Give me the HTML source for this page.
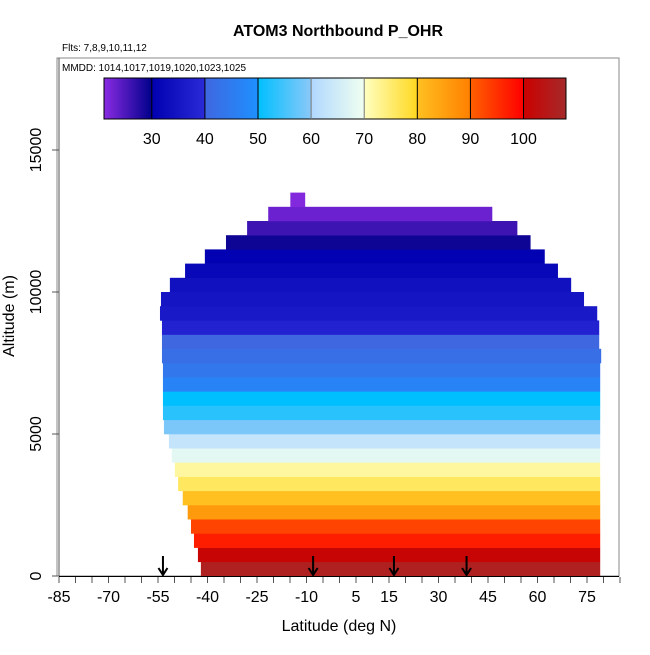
<!DOCTYPE html>
<html><head><meta charset="utf-8"><style>
body{margin:0;background:#fff}
svg text{font-family:"Liberation Sans",sans-serif}
</style></head><body>
<svg id="chart" width="650" height="650" xmlns="http://www.w3.org/2000/svg">
<defs>
<linearGradient id="cbar" x1="0" x2="1" y1="0" y2="0"></linearGradient>
</defs>
<rect x="57" y="58" width="562" height="518" fill="none" stroke="#888" stroke-width="1"/>
<text x="338" y="36" font-size="16" font-weight="bold" text-anchor="middle">ATOM3 Northbound P_OHR</text>
<text x="62" y="51" font-size="10">Flts: 7,8,9,10,11,12</text>
<text x="62" y="71" font-size="10">MMDD: 1014,1017,1019,1020,1023,1025</text>
<g id="heat"></g>
<g id="cb"></g>
<g id="axes"></g>
<text x="339" y="631" font-size="16" text-anchor="middle">Latitude (deg N)</text>
<text transform="translate(14,316) rotate(-90)" font-size="16" text-anchor="middle">Altitude (m)</text>
</svg>
<script>
const rowAltBase=[0,500,1000,1500,2000,2500,3000,3500,4000,4500,5000,5500,6000,6500,7000,7500,8000,8500,9000,9500,10000,10500,11000,11500,12000,12500,13000];
const rowValues=[106,101,97,93,86,80,76,72,68,63,59,53,50,47,44,42,40,38,36,35,34,32,30.5,29,26,23,21.5];
const rowLatMin=[-42,-42.9,-44.1,-45,-46,-47.5,-48.9,-49.9,-50.8,-51.7,-53.2,-53.5,-53.5,-53.5,-53.5,-53.8,-53.8,-53.8,-54.4,-54.1,-51.4,-46.8,-40.8,-34.4,-28,-21.6,-14.9];
const rowLatMax=[79,79,79,79,79,79,79,79,79,79,79,79,79,79,79,79.3,78.7,78.7,78.1,74.1,70.2,66.2,62.2,57.9,53.9,46.3,-10.4];
const cbTicks=[30,40,50,60,70,80,90,100];
const xTickLabels=[-85,-70,-55,-40,-25,-10,5,15,30,45,60,75];
const yTicks=[0,5000,10000,15000];
const arrowLats=[-53.5,-8,16.5,38.5];
const stops=[[21,'#8a2be2'],[29.99,'#00008b'],[30,'#0000b0'],[39.99,'#2a2ad8'],[40,'#3f67e0'],[49.99,'#1e90ff'],[50,'#00bfff'],[59.99,'#8ac8f8'],[60,'#b0d8ff'],[69.99,'#f0fff0'],[70,'#ffffc0'],[79.99,'#ffd820'],[80,'#ffc020'],[89.99,'#ff8000'],[90,'#ff6000'],[99.99,'#ff0000'],[100,'#cc0000'],[108,'#a52a2a']];
const xs=lat=>59+(lat+85)*3.3;
const ys=alt=>576-alt*0.0284;
const cs=v=>104+(v-21)*(462/87);
function hex(c){return [1,3,5].map(i=>parseInt(c.substr(i,2),16));}
function color(v){
 if(v<=stops[0][0])return stops[0][1];
 for(let i=1;i<stops.length;i++){if(v<=stops[i][0]){const a=stops[i-1],b=stops[i];const t=(v-a[0])/(b[0]-a[0]);const ca=hex(a[1]),cb=hex(b[1]);return 'rgb('+ca.map((x,k)=>Math.round(x+(cb[k]-x)*t)).join(',')+')';}}
 return stops[stops.length-1][1];
}
const NS='http://www.w3.org/2000/svg';
function mk(tag,attrs,parent){const e=document.createElementNS(NS,tag);for(const k in attrs)e.setAttribute(k,attrs[k]);parent.appendChild(e);return e;}
const heat=document.getElementById('heat');
rowAltBase.forEach((a,i)=>{
 const r=mk('rect',{x:xs(rowLatMin[i]),y:ys(a+500),width:xs(rowLatMax[i])-xs(rowLatMin[i]),height:ys(a)-ys(a+500)+0.3,fill:color(rowValues[i])},heat);
 
 
});
const g=document.getElementById('cbar');
stops.forEach(s=>{mk('stop',{offset:((s[0]-21)/87).toFixed(4),'stop-color':s[1]},g);});
const cb=document.getElementById('cb');
const cbr=mk('rect',{x:104,y:78,width:462,height:41,fill:'url(#cbar)',stroke:'#000','stroke-width':1},cb);


cbTicks.forEach(v=>{
 const l=mk('line',{x1:cs(v),x2:cs(v),y1:78,y2:119,stroke:(v==60||v==70)?'#777':'#000','stroke-width':1},cb);
 
 
 const t=mk('text',{x:cs(v),y:144,'font-size':16,'text-anchor':'middle'},cb);
 t.textContent=v;
 
 
});
const ax=document.getElementById('axes');
mk('line',{x1:59,x2:619,y1:576.5,y2:576.5,stroke:'#000'},ax);
mk('line',{x1:59,x2:59,y1:58,y2:576,stroke:'#555'},ax);
for(let lat=-85;lat<=85;lat+=5){
 const t=mk('line',{x1:xs(lat),x2:xs(lat),y1:577,y2:583,stroke:'#555'},ax);
 
 
}
xTickLabels.forEach(v=>{
 const t=mk('text',{x:xs(v),y:602,'font-size':16,'text-anchor':'middle'},ax);
 t.textContent=v;
 
 
});
yTicks.forEach(v=>{
 mk('line',{x1:52,x2:59,y1:ys(v),y2:ys(v),stroke:'#555'},ax);
 const t=mk('text',{'font-size':16,'text-anchor':'middle',transform:'translate(41,'+ys(v)+') rotate(-90)'},ax);
 t.textContent=v;
 
 
});
arrowLats.forEach(l=>{
 const x=xs(l);
 const p=mk('path',{d:'M'+x+' 556 V575 M'+(x-4.5)+' 568 L'+x+' 575 L'+(x+4.5)+' 568',stroke:'#000','stroke-width':2,fill:'none'},ax);
 
 
});
</script>
</body></html>
